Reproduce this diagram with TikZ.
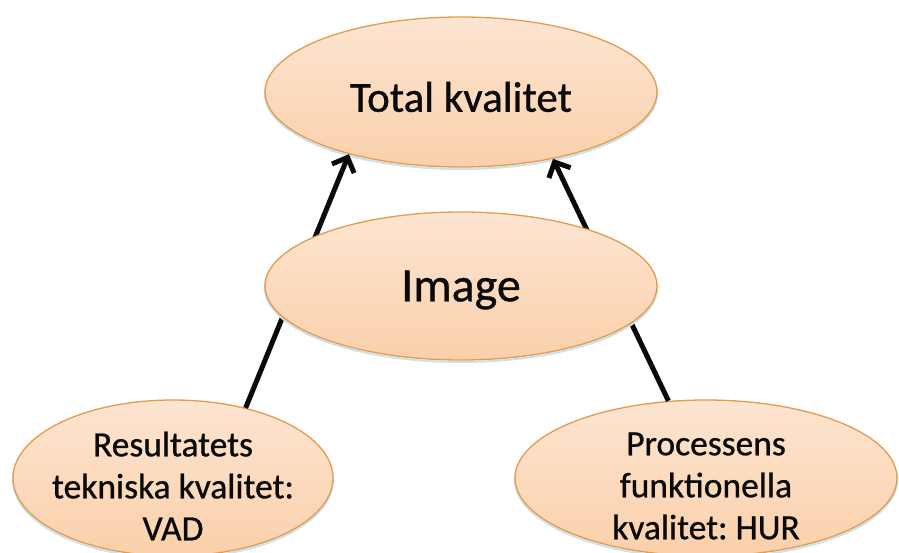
\documentclass[tikz,border=0pt]{standalone}
\usepackage{fontspec}
\setmainfont[FakeBold=0.8]{Carlito}
\usetikzlibrary{shapes.geometric,arrows.meta}
\definecolor{fillTop}{HTML}{FDE5D2}
\definecolor{fillBot}{HTML}{FAD0AA}
\definecolor{edge}{HTML}{E49B4E}
\definecolor{shade}{HTML}{C9E2EC}
\definecolor{ink}{HTML}{0A0A0A}
\tikzset{
  bubble/.style={ellipse, inner sep=0pt, top color=fillTop, bottom color=fillBot,
    draw=edge, line width=1.3pt,
    preaction={draw=shade, line width=2pt, transform canvas={yshift=-2pt}}},
  txt/.style={text=ink, align=center, inner sep=0pt},
  arr/.style={line width=5pt, draw=ink, -{Straight Barb[length=12pt,width=24pt]}}
}
\begin{document}
\frenchspacing
\begin{tikzpicture}[x=1pt,y=1pt]
\useasboundingbox[fill=white] (0,0) rectangle (899,552);
\node[bubble, minimum width=392pt, minimum height=150pt] (top) at (461,460) {};
\node[bubble, minimum width=320pt, minimum height=156pt] (bl) at (173,74) {};
\node[bubble, minimum width=382pt, minimum height=156pt] (br) at (706,74) {};
\draw[arr] (bl.44.6) -- (top.209.6);
\draw[arr] (br.116.3) -- (top.324.4);
\node[bubble, minimum width=392pt, minimum height=148pt] (img) at (461,266) {};
\node[txt, font=\fontsize{43}{50}\selectfont] (toptxt) at (461,455) {Total kvalitet};
\node[txt, font=\fontsize{48}{56}\selectfont] (imgtxt) at (461,262) {Image};
\node[txt, font=\fontsize{35.5}{42}\selectfont] (bltxt) at (173,66) {Resultatets\\tekniska kvalitet:\\VAD};
\node[txt, font=\fontsize{35.5}{42}\selectfont] (brtxt) at (706,66) {Processens\\funktionella\\kvalitet: HUR};
\end{tikzpicture}
\end{document}
